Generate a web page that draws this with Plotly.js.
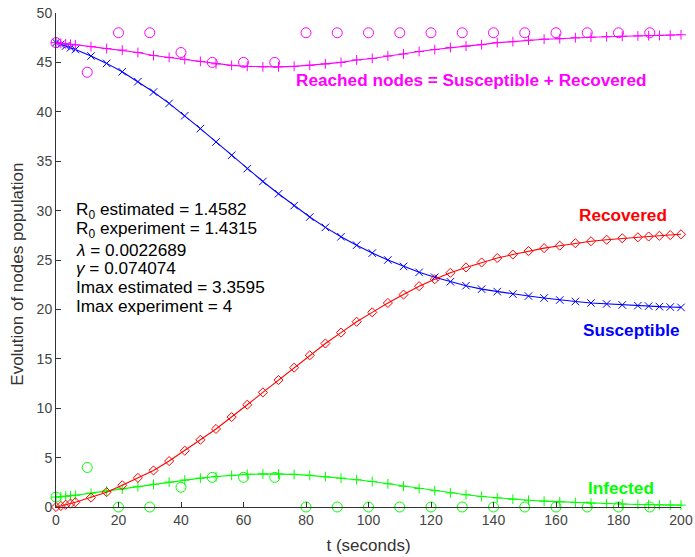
<!DOCTYPE html>
<html>
<head>
<meta charset="utf-8">
<script src="https://cdn.plot.ly/plotly-3.0.1.min.js"></script>
<style>
  html, body { margin: 0; padding: 0; background: #fff; }
  #chart { width: 695px; height: 557px; }
</style>
</head>
<body>
<div id="chart"></div>
<script>
// SIR model solution (solver output times) and observed counts
const t = [0, 1.55, 3.1, 4.65, 6.2, 11.2, 16.2, 21.2, 26.2, 31.2, 36.2, 41.2, 46.2, 51.2, 56.2,
  61.2, 66.2, 71.2, 76.2, 81.2, 86.2, 91.2, 96.2, 101.2, 106.2, 111.2, 116.2, 121.2, 126.2,
  131.2, 136.2, 141.2, 146.2, 151.2, 156.2, 161.2, 166.2, 171.2, 176.2, 181.2, 186.2,
  189.65, 193.1, 196.55, 200];

const susceptible = [47, 46.83, 46.66, 46.48, 46.3, 45.65, 44.9, 44.05, 43.05, 42.0, 40.85, 39.6,
  38.3, 36.95, 35.6, 34.25, 32.95, 31.7, 30.5, 29.35, 28.3, 27.35, 26.5, 25.7, 25.0, 24.35,
  23.75, 23.25, 22.8, 22.4, 22.05, 21.8, 21.55, 21.35, 21.15, 20.95, 20.8, 20.65, 20.55,
  20.45, 20.38, 20.33, 20.28, 20.24, 20.2];

const infected = [1.0, 1.04, 1.09, 1.14, 1.19, 1.4, 1.62, 1.83, 2.06, 2.3, 2.52, 2.73, 2.92, 3.08,
  3.2, 3.3, 3.35, 3.35, 3.3, 3.2, 3.07, 2.92, 2.76, 2.58, 2.35, 2.1, 1.87, 1.65, 1.43, 1.24,
  1.07, 0.92, 0.79, 0.68, 0.59, 0.52, 0.45, 0.39, 0.34, 0.3, 0.26, 0.24, 0.22, 0.2, 0.19];

const recovered = [0, 0.1, 0.23, 0.35, 0.48, 0.95, 1.5, 2.2, 2.95, 3.7, 4.65, 5.7, 6.8, 7.9, 9.1,
  10.35, 11.6, 12.85, 14.1, 15.35, 16.55, 17.65, 18.75, 19.7, 20.65, 21.5, 22.35, 23.05, 23.7,
  24.25, 24.75, 25.2, 25.55, 25.9, 26.2, 26.45, 26.7, 26.9, 27.05, 27.2, 27.3, 27.38, 27.45,
  27.52, 27.6];

const reached = [47.0, 46.93, 46.89, 46.83, 46.78, 46.6, 46.4, 46.25, 46.0, 45.7, 45.5, 45.3,
  45.1, 44.85, 44.7, 44.6, 44.55, 44.55, 44.6, 44.7, 44.85, 45.0, 45.25, 45.4, 45.65, 45.85,
  46.1, 46.3, 46.5, 46.65, 46.8, 47.0, 47.1, 47.25, 47.35, 47.4, 47.5, 47.55, 47.6, 47.65,
  47.68, 47.71, 47.73, 47.76, 47.8];

const tObs = [0, 10, 20, 30, 40, 50, 60, 70, 80, 90, 100, 110, 120, 130, 140, 150, 160, 170, 180, 190];
const infectedObs = [1, 4, 0, 0, 2, 3, 3, 3, 0, 0, 0, 0, 0, 0, 0, 0, 0, 0, 0, 0];
const reachedObs = [47, 44, 48, 48, 46, 45, 45, 45, 48, 48, 48, 48, 48, 48, 48, 48, 48, 48, 48, 48];

const xTicks = [0, 20, 40, 60, 80, 100, 120, 140, 160, 180, 200];
const yTicks = [0, 5, 10, 15, 20, 25, 30, 35, 40, 45, 50];

const infoLines = [
  'R<sub>0</sub> estimated = 1.4582',
  'R<sub>0</sub> experiment = 1.4315',
  '<i>λ</i> = 0.0022689',
  '<i>γ</i> = 0.074074',
  'Imax estimated = 3.3595',
  'Imax experiment = 4'
];

const MAGENTA = '#ff00ff', BLUE = '#0000ff', RED = '#ff0000', GREEN = '#00ff00';
const FONT = 'Liberation Sans, Arial, Helvetica, sans-serif';
const LABEL_SIZE = 17.2;

function curve(y, color, symbol, size) {
  return {
    x: t, y: y, type: 'scatter', mode: 'lines+markers', cliponaxis: false,
    line: { color: color, width: 1.1 },
    marker: { symbol: symbol, size: size, color: color, line: { color: color, width: 1 } },
    hoverinfo: 'skip', showlegend: false
  };
}
function observed(y, color) {
  return {
    x: tObs, y: y, type: 'scatter', mode: 'markers', cliponaxis: false,
    marker: { symbol: 'circle-open', size: 10, color: color, line: { color: color, width: 1 } },
    hoverinfo: 'skip', showlegend: false
  };
}

const data = [
  curve(susceptible, BLUE, 'x-thin-open', 7.5),
  curve(infected, GREEN, 'cross-thin-open', 7),
  curve(recovered, RED, 'diamond-open', 7),
  curve(reached, MAGENTA, 'cross-thin-open', 7),
  observed(reachedObs, MAGENTA),
  observed(infectedObs, GREEN)
];

const infoY = [30.0, 28.05, 26.05, 24.15, 22.3, 20.35];
const annotations = infoLines.map((txt, i) => ({
  x: 5.6, y: infoY[i], xref: 'x', yref: 'y', text: txt, showarrow: false,
  xanchor: 'left', yanchor: 'middle', align: 'left',
  font: { family: FONT, size: LABEL_SIZE, color: '#000' }
}));

annotations.push(
  { x: 76.0, y: 43.2, xref: 'x', yref: 'y', text: '<b>Reached nodes = Susceptible + Recovered</b>',
    showarrow: false, xanchor: 'left', yanchor: 'middle', font: { family: FONT, size: LABEL_SIZE, color: MAGENTA } },
  { x: 196.3, y: 29.55, xref: 'x', yref: 'y', text: '<b>Recovered</b>',
    showarrow: false, xanchor: 'right', yanchor: 'middle', font: { family: FONT, size: LABEL_SIZE, color: RED } },
  { x: 200, y: 17.9, xref: 'x', yref: 'y', text: '<b>Susceptible</b>',
    showarrow: false, xanchor: 'right', yanchor: 'middle', font: { family: FONT, size: LABEL_SIZE, color: BLUE } },
  { x: 169.6, y: 1.9, xref: 'x', yref: 'y', text: '<b>Infected</b>',
    showarrow: false, xanchor: 'left', yanchor: 'middle', font: { family: FONT, size: LABEL_SIZE, color: GREEN } },
  { x: -0.061, y: 0.472, xref: 'paper', yref: 'paper', text: 'Evolution of nodes population',
    showarrow: false, textangle: -90, xanchor: 'center', yanchor: 'middle',
    font: { family: FONT, size: 17, color: '#333' } }
);

const axisCommon = {
  showgrid: false, zeroline: false, showline: true, linecolor: '#333', linewidth: 1,
  ticks: 'inside', ticklen: 5, tickcolor: '#333', tickwidth: 1,
  tickfont: { family: FONT, size: 14, color: '#444' }
};

const layout = {
  width: 695, height: 557,
  margin: { l: 56, r: 14, t: 13, b: 50, pad: 0 },
  paper_bgcolor: '#fff', plot_bgcolor: '#fff',
  font: { family: FONT },
  xaxis: Object.assign({}, axisCommon, {
    range: [0, 200], tickvals: xTicks, ticktext: xTicks.map(String),
    title: { text: 't (seconds)', font: { family: FONT, size: 17, color: '#333' }, standoff: 12 }
  }),
  yaxis: Object.assign({}, axisCommon, {
    range: [0, 50], tickvals: yTicks, ticktext: yTicks.map(String)
  }),
  annotations: annotations
};

Plotly.newPlot('chart', data, layout, { staticPlot: true, displayModeBar: false });
</script>
</body>
</html>
